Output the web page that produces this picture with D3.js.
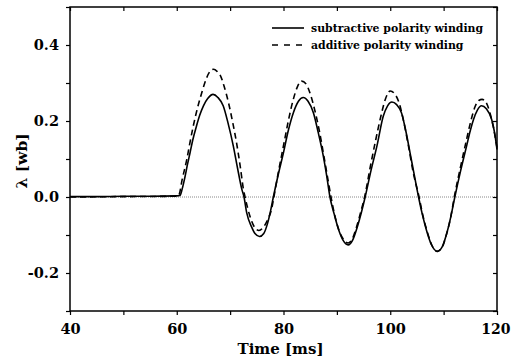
<!DOCTYPE html>
<html lang="en">
<head>
	<title>Flux linkage vs time</title>
	<style>
	body { margin: 0; background: #fff; }
	text { font-family: "DejaVu Serif", serif; font-weight: bold; fill: #000; }
	</style>
</head>
<body>
	<svg width="511" height="363"></svg>
	<script src="https://d3js.org/d3.v7.min.js" charset="utf-8"></script>
	<script>

	// time [ms] and flux linkage [wb]
	var subT = [40, 45, 50, 55, 60, 60.6, 61, 61.5, 62, 62.5, 63, 63.7, 64.3, 65, 65.8, 66.8, 67.7, 68.7, 69.6, 70.6,
		71.4, 72.2, 72.6, 73.1, 74, 74.7, 75.5, 76.3, 77, 77.6, 78.1, 79, 80, 80.9, 81.85, 82.8, 83.7, 84.6, 85.6, 86.5,
		87.45, 88.1, 88.7, 89.5, 90.3, 91.2, 92.1, 93, 93.8, 94.6, 95.3, 96.4, 97.5, 98.7, 99.5, 100.3, 101.2, 102.1, 102.9, 103.7,
		104.5, 105.3, 106, 106.8, 107.7, 108.8, 109.7, 110.5, 111.3, 112.1, 113.2, 114.3, 115, 115.6, 116.3, 117.1, 118, 119, 119.6, 120];
	var subV = [0.001, 0.001, 0.002, 0.002, 0.003, 0.004, 0.02, 0.05, 0.085, 0.117, 0.15, 0.187, 0.215, 0.24, 0.259, 0.27, 0.262, 0.24, 0.195, 0.134,
		0.075, 0.02, 0, -0.041, -0.078, -0.097, -0.104, -0.096, -0.07, -0.035, 0, 0.058, 0.117, 0.175, 0.222, 0.252, 0.262, 0.252, 0.222, 0.17,
		0.108, 0.055, 0, -0.045, -0.085, -0.115, -0.126, -0.112, -0.08, -0.04, 0, 0.07, 0.134, 0.213, 0.24, 0.25, 0.243, 0.222, 0.175, 0.117,
		0.058, 0, -0.045, -0.088, -0.125, -0.143, -0.132, -0.1, -0.055, 0, 0.07, 0.134, 0.175, 0.204, 0.228, 0.24, 0.232, 0.204, 0.165, 0.125];

	var addT = [40, 50, 60, 60.4, 61, 61.9, 62.5, 63.1, 63.9, 64.7, 65.5, 66.2, 66.9, 67.6, 68.1, 68.9, 69.7, 70.5, 71.2, 71.9,
		72.5, 72.8, 73.7, 74.6, 75.4, 76.3, 77.1, 77.8, 78.2, 79.1, 80, 80.9, 81.8, 82.6, 83.4, 84.2, 85, 85.8, 86.7, 87.6,
		88.4, 88.9, 89.6, 90.4, 91.3, 92.1, 92.9, 93.7, 94.5, 95.2, 96.2, 97.2, 98.2, 99.1, 100, 100.8, 101.6, 102.5, 103.4, 104.3,
		105.4, 106.1, 106.9, 107.8, 108.8, 109.7, 110.5, 111.3, 112, 113.1, 114.2, 115.1, 115.9, 116.6, 117.2, 117.9, 118.6, 119.3, 120];
	var addV = [0, 0.001, 0.002, 0.005, 0.045, 0.1, 0.145, 0.187, 0.235, 0.275, 0.31, 0.33, 0.336, 0.33, 0.322, 0.29, 0.248, 0.195, 0.143, 0.08,
		0.02, 0, -0.05, -0.08, -0.088, -0.078, -0.058, -0.03, 0, 0.07, 0.135, 0.2, 0.255, 0.29, 0.305, 0.298, 0.272, 0.232, 0.175, 0.105,
		0.04, 0, -0.048, -0.088, -0.113, -0.121, -0.11, -0.078, -0.038, 0, 0.075, 0.145, 0.21, 0.258, 0.279, 0.272, 0.25, 0.2, 0.135, 0.065,
		0, -0.048, -0.09, -0.127, -0.143, -0.133, -0.1, -0.055, 0, 0.075, 0.145, 0.2, 0.238, 0.254, 0.257, 0.25, 0.225, 0.185, 0.13];

	var xTicks = [40, 60, 80, 100, 120];
	var yTicks = ["-0.2", "0.0", "0.2", "0.4"];
	var seriesNames = ["subtractive polarity winding", "additive polarity winding"];

	var svg = d3.select("svg"),
		margin = {top: 7, right: 14, bottom: 52, left: 70},
		width = +svg.attr("width") - margin.left - margin.right,
		height = +svg.attr("height") - margin.top - margin.bottom;

	var x = d3.scaleLinear().domain([40, 120]).range([0, width]);
	var y = d3.scaleLinear().domain([-0.3, 0.5]).range([height, 0]);

	var g = svg.append("g").attr("transform", "translate(" + margin.left + "," + margin.top + ")");

	// zero line
	g.append("line")
		.attr("x1", 0).attr("x2", width)
		.attr("y1", y(0)).attr("y2", y(0))
		.attr("stroke", "#888").attr("stroke-width", 1)
		.attr("stroke-dasharray", "1,1");

	var line = d3.line()
		.x(function(d) { return x(d[0]); })
		.y(function(d) { return y(d[1]); })
		.curve(d3.curveMonotoneX);

	var subData = subT.map(function(t, i) { return [t, subV[i]]; });
	var addData = addT.map(function(t, i) { return [t, addV[i]]; });

	g.append("path").datum(addData)
		.attr("d", line).attr("fill", "none")
		.attr("stroke", "#000").attr("stroke-width", 1.6)
		.attr("stroke-dasharray", "6,4");

	g.append("path").datum(subData)
		.attr("d", line).attr("fill", "none")
		.attr("stroke", "#000").attr("stroke-width", 1.6);

	// axes
	var xMinor = d3.range(40, 121, 10);
	var yMinor = d3.range(-3, 6).map(function(k) { return k / 10; });
	var fmtY = function(d) {
		var s = d.toFixed(1);
		return yTicks.indexOf(s) >= 0 ? s : "";
	};

	var axBottom = g.append("g").attr("transform", "translate(0," + height + ")")
		.call(d3.axisBottom(x).tickValues(xMinor).tickSize(4)
			.tickFormat(function(d) { return xTicks.indexOf(d) >= 0 ? d : ""; }).tickPadding(9));
	var axLeft = g.append("g")
		.call(d3.axisLeft(y).tickValues(yMinor).tickSize(4).tickFormat(fmtY).tickPadding(7));
	var axTop = g.append("g")
		.call(d3.axisBottom(x).tickValues(xMinor).tickSize(4).tickFormat(""));
	var axRight = g.append("g").attr("transform", "translate(" + width + ",0)")
		.call(d3.axisLeft(y).tickValues(yMinor).tickSize(4).tickFormat(""));

	[axBottom, axLeft, axTop, axRight].forEach(function(a) {
		a.select(".domain").remove();
		a.selectAll(".tick line").attr("stroke-width", 1.2);
		a.selectAll("text").style("font-family", "'DejaVu Serif', serif").style("font-size", "14.5px").style("font-weight", "bold");
	});

	// last label sits against the right edge, as in the original
	axBottom.selectAll(".tick text")
		.filter(function(d) { return d === 120; })
		.style("font-size", "14px")
		.attr("text-anchor", "end").attr("dx", "13");

	g.append("rect")
		.attr("width", width).attr("height", height)
		.attr("fill", "none").attr("stroke", "#000").attr("stroke-width", 1.5);

	// labels
	svg.append("text")
		.attr("x", margin.left + width / 2 - 3).attr("y", 354)
		.attr("text-anchor", "middle").style("font-size", "15px")
		.text("Time [ms]");

	svg.append("text")
		.attr("transform", "translate(27," + (margin.top + y(0.1) + 2) + ") rotate(-90)")
		.attr("text-anchor", "middle").style("font-size", "15.5px")
		.text("λ [wb]");

	// legend
	var legend = svg.append("g").attr("transform", "translate(272,28)");
	seriesNames.forEach(function(name, i) {
		legend.append("line")
			.attr("x1", 0).attr("x2", 32).attr("y1", i * 17).attr("y2", i * 17)
			.attr("stroke", "#000").attr("stroke-width", 1.6)
			.attr("stroke-dasharray", i === 1 ? "6,6" : null);
		legend.append("text")
			.attr("x", 39).attr("y", i * 17 + 4)
			.style("font-size", "10.9px")
			.text(name);
	});

	</script>
</body>
</html>
